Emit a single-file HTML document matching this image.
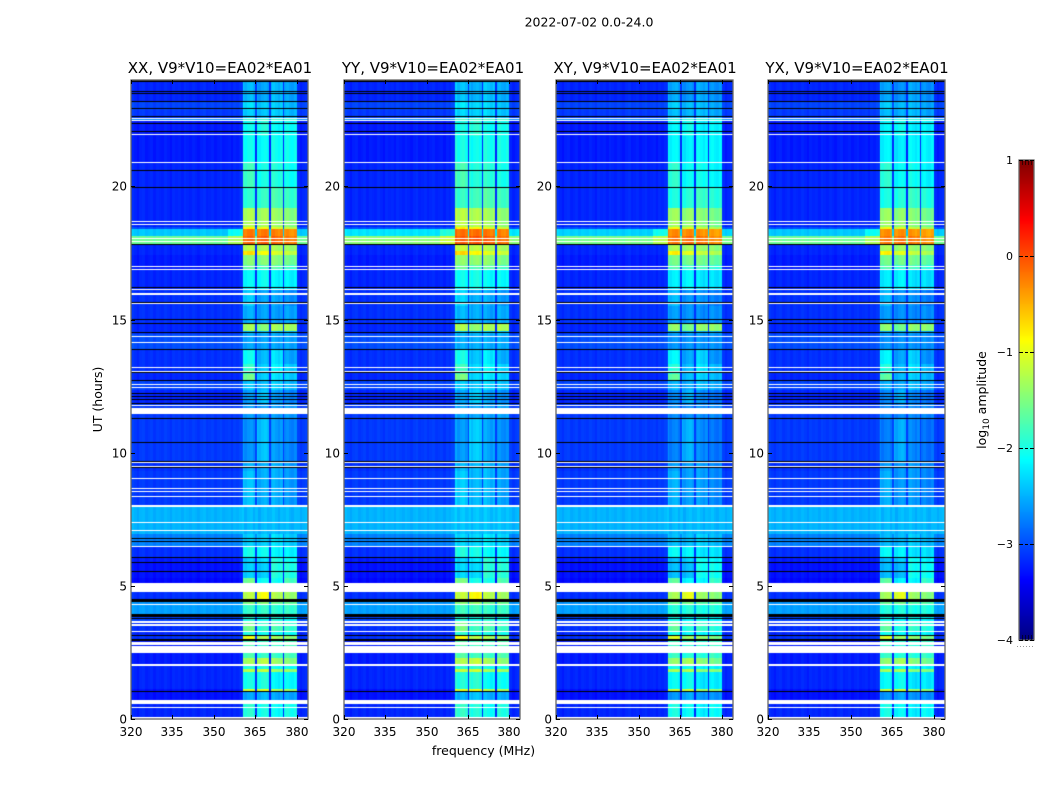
<!DOCTYPE html>
<html lang="en">
<head>
<meta charset="utf-8">
<title>2022-07-02 dynamic spectra</title>
<style>
  html, body { margin: 0; padding: 0; background: #fff; }
  #figure { position: relative; width: 1050px; height: 800px; overflow: hidden; background: #fff; }
  canvas { position: absolute; display: block; }
  svg { position: absolute; left: 0; top: 0; }
  text { font-family: "DejaVu Sans", "Liberation Sans", sans-serif; fill: #000; }
</style>
</head>
<body>
<div id="figure">
  <canvas id="hm0" width="177" height="639" style="left:131px;top:80px"></canvas>
  <canvas id="hm1" width="176" height="639" style="left:344px;top:80px"></canvas>
  <canvas id="hm2" width="177" height="639" style="left:556px;top:80px"></canvas>
  <canvas id="hm3" width="177" height="639" style="left:768px;top:80px"></canvas>
  <canvas id="cbar" width="15" height="480" style="left:1019px;top:160px"></canvas>
  <svg id="overlay" width="1050" height="800" viewBox="0 0 1050 800">
    <text x="589" y="26.5" text-anchor="middle" font-size="12.5">2022-07-02 0.0-24.0</text>
    <text x="220" y="73" text-anchor="middle" font-size="15">XX, V9*V10=EA02*EA01</text>
    <text x="433" y="73" text-anchor="middle" font-size="15">YY, V9*V10=EA02*EA01</text>
    <text x="645" y="73" text-anchor="middle" font-size="15">XY, V9*V10=EA02*EA01</text>
    <text x="857" y="73" text-anchor="middle" font-size="15">YX, V9*V10=EA02*EA01</text>
    <text x="483.5" y="755" text-anchor="middle" font-size="12.5">frequency (MHz)</text>
    <text transform="translate(102,399.5) rotate(-90)" text-anchor="middle" font-size="12.5">UT (hours)</text>
    <text transform="translate(986,400) rotate(-90)" text-anchor="middle" font-size="12.5">log<tspan dy="3" font-size="9">10</tspan><tspan dy="-3"> amplitude</tspan></text>
    <g id="axes-layer"></g>
    <g id="cbar-layer"></g>
  </svg>
</div>
<script>
// Tick labels
const xTickValues = [320, 335, 350, 365, 380];
const yTickValues = [0, 5, 10, 15, 20];
const colorTickValues = [1, 0, -1, -2, -3, -4];

// Axis domains
const freqDomain = [320, 384];
const timeDomain = [0, 24];
const colorDomain = [-4, 1];

// Lower edge (UT hours) of each time segment
const segmentStartHours = [0.00,0.75,1.03,1.16,1.80,1.91,2.10,2.33,3.00,3.15,3.34,3.68,3.94,4.35,4.54,5.14,5.33,5.93,6.12,6.49,6.98,8.07,9.34,9.64,11.30,11.83,12.35,12.72,12.98,13.36,13.88,14.48,14.60,14.86,15.53,16.17,16.92,17.07,17.45,17.60,17.82,18.16,18.42,18.50,19.21,19.96,20.90,21.91,22.47,22.55,22.89,23.20];
// log10 amplitude levels per segment: out-of-band background and four sub-bands
const backgroundLevels = [-3.2,-3.3,-3.3,-3.2,-3.2,-3.2,-3.25,-3.25,-3.15,-3.2,-3.15,-3.05,-2.6,-2.65,-3.15,-3.35,-3.3,-3.25,-3.15,-2.75,-2.5,-3.1,-3.15,-3.1,-3.1,-3.2,-3.05,-3.2,-3.15,-3.15,-3.0,-3.15,-3.2,-3.15,-3.15,-3.2,-3.25,-3.25,-3.2,-3.2,-1.6,-2.4,-3.0,-3.2,-3.2,-3.2,-3.25,-3.25,-2.7,-3.1,-3.05,-3.2];
const band1Levels = [-1.95,-2.6,-1.1,-2.05,-1.25,-2.0,-1.35,-1.8,-1.0,-2.0,-1.6,-2.0,-1.9,-1.55,-1.25,-1.6,-2.4,-2.4,-2.05,-2.4,-2.5,-2.45,-2.55,-2.7,-2.65,-2.65,-2.45,-1.6,-1.9,-2.1,-2.6,-2.5,-1.35,-2.55,-2.4,-2.15,-1.7,-1.5,-0.75,-1.25,-0.15,-0.25,-0.9,-1.3,-1.95,-1.85,-2.1,-2.1,-1.9,-2.4,-2.3,-2.5];
const band2Levels = [-2.05,-2.5,-1.05,-2.0,-1.2,-2.0,-1.25,-1.9,-1.3,-2.1,-1.9,-2.1,-1.9,-1.5,-0.95,-2.1,-2.4,-2.3,-2.1,-2.4,-2.5,-2.55,-2.55,-2.45,-2.65,-2.45,-2.5,-2.4,-2.4,-2.5,-2.6,-2.5,-1.5,-2.6,-2.6,-2.1,-1.85,-1.5,-0.95,-1.3,-0.1,-0.25,-1.0,-1.35,-1.9,-2.05,-2.15,-2.0,-1.9,-2.45,-2.4,-2.6];
const band3Levels = [-2.15,-2.6,-1.3,-2.2,-1.4,-2.1,-1.4,-1.9,-1.35,-2.1,-1.8,-2.0,-1.95,-1.65,-1.3,-2.1,-2.0,-2.0,-2.2,-2.3,-2.5,-2.55,-2.55,-2.65,-2.65,-2.65,-2.4,-2.3,-2.2,-2.3,-2.6,-2.5,-1.35,-2.65,-2.6,-2.2,-1.75,-1.5,-1.1,-1.35,-0.15,-0.3,-1.1,-1.4,-1.8,-2.0,-2.1,-2.15,-1.9,-2.4,-2.4,-2.5];
const band4Levels = [-2.05,-2.6,-1.35,-2.15,-1.4,-2.1,-1.5,-1.8,-1.45,-2.1,-1.9,-2.1,-1.9,-1.65,-1.4,-1.8,-2.0,-2.1,-2.2,-2.4,-2.5,-2.65,-2.65,-2.75,-2.65,-2.75,-2.5,-2.4,-2.4,-2.6,-2.6,-2.5,-1.35,-2.6,-2.7,-2.2,-1.9,-1.6,-1.2,-1.4,-0.25,-0.35,-1.2,-1.5,-1.9,-2.1,-2.1,-2.1,-1.9,-2.5,-2.5,-2.6];

// Sub-band edges in MHz
const bandStartMHz = [360.5, 365.5, 370.5, 375.5];
const bandWidthMHz = 4.5;
const channelStepMHz = 0.5;

// Per-MHz level offset across the 64 MHz span
const channelOffsets = [0.05,0.00,-0.05,0.02,0.04,-0.03,0.00,0.03,-0.04,0.02,0.00,-0.02,0.04,0.00,-0.05,0.03,0.00,0.02,-0.03,0.04,0.01,-0.02,0.03,0.00,-0.04,0.02,0.05,-0.02,0.00,0.03,-0.03,0.01,0.04,-0.02,0.00,0.02,-0.04,0.03,0.00,0.05,0.10,-0.03,0.05,0.08,-0.02,0.06,-0.05,0.04,0.08,0.00,0.02,0.10,0.03,-0.04,0.05,0.02,0.08,0.00,-0.03,0.05,0.04,-0.03,0.02,0.05];

// Per-panel level offsets (XX, YY, XY, YX)
const panelBandOffsets = [0, 0.05, -0.08, -0.1];
const panelBrightBackgroundOffsets = [0, 0.15, 0.05, 0];

// Interference near 18 UT brightens the channels just below the first sub-band
const shoulderRangeMHz = [355, 360.5];
const shoulderBoost = 0.3;

// Flagged time ranges in UT hours: white = no data, black = zero amplitude
const blankRanges = [[0.02,0.08],[0.42,0.47],[0.60,0.75],[2.03,2.07],[2.51,2.75],[2.80,2.93],[3.27,3.34],[3.53,3.58],[3.62,3.69],[4.32,4.35],[4.80,5.14],[6.49,6.53],[7.07,7.11],[7.39,7.43],[7.96,8.07],[8.35,8.39],[8.55,8.59],[8.65,8.70],[9.02,9.06],[9.47,9.51],[9.62,9.66],[11.48,11.69],[11.78,11.82],[12.43,12.47],[12.55,12.59],[13.05,13.09],[13.18,13.22],[14.12,14.16],[14.36,14.40],[15.58,15.62],[15.95,15.99],[16.12,16.16],[16.87,16.91],[16.97,17.01],[17.94,17.97],[18.03,18.07],[18.56,18.60],[18.66,18.70],[20.88,20.92],[21.94,21.98],[22.47,22.51],[22.53,22.57]];
const zeroRanges = [[1.03,1.07],[2.95,3.02],[3.13,3.17],[3.76,3.80],[3.86,3.96],[4.43,4.47],[4.50,4.54],[5.55,5.59],[5.89,5.93],[6.08,6.12],[6.67,6.71],[6.78,6.82],[9.43,9.47],[9.66,9.70],[10.38,10.42],[11.28,11.32],[11.83,11.87],[11.98,12.02],[12.10,12.14],[12.23,12.27],[12.69,12.73],[13.00,13.04],[13.86,13.90],[14.49,14.53],[14.86,14.90],[14.98,15.02],[15.63,15.67],[16.20,16.24],[17.80,17.84],[19.93,19.97],[20.58,20.62],[22.05,22.09],[22.36,22.40],[22.62,22.66],[22.90,22.94],[23.18,23.22],[23.46,23.50],[23.56,23.60],[23.94,24.00]];

// Axis functions
const panelLefts = [131, 344, 556, 768];
const panelRights = [308, 520, 733, 945];
const plotBottom = 719.4;
const plotTop = 79.8;
const cbarTop = 160;
const cbarBottom = 640;
function xScale(panel, mhz) {
  return panelLefts[panel] + (mhz - freqDomain[0]) / (freqDomain[1] - freqDomain[0]) * (panelRights[panel] - panelLefts[panel]);
}
function yScale(hour) {
  return plotBottom - (hour - timeDomain[0]) / (timeDomain[1] - timeDomain[0]) * (plotBottom - plotTop);
}
function cbarScale(value) {
  return cbarBottom - (value - colorDomain[0]) / (colorDomain[1] - colorDomain[0]) * (cbarBottom - cbarTop);
}
function clamp01(v) { return Math.max(0, Math.min(1, v)); }
function jet(value) {
  const f = clamp01((value - colorDomain[0]) / (colorDomain[1] - colorDomain[0]));
  const r = clamp01(Math.min(4 * f - 1.5, -4 * f + 4.5));
  const g = clamp01(Math.min(4 * f - 0.5, -4 * f + 3.5));
  const b = clamp01(Math.min(4 * f + 0.5, -4 * f + 2.5));
  return 'rgb(' + Math.round(r * 255) + ',' + Math.round(g * 255) + ',' + Math.round(b * 255) + ')';
}
const bandLevelArrays = [band1Levels, band2Levels, band3Levels, band4Levels];

function drawRanges(ctx, panel, ranges, color) {
  ctx.fillStyle = color;
  ranges.forEach(function (range) {
    const top = Math.round(yScale(range[1]) - plotTop);
    const bottom = Math.round(yScale(range[0]) - plotTop);
    ctx.fillRect(0, top, ctx.canvas.width, Math.max(1, bottom - top));
  });
}

function drawHeatmap(panel) {
  const ctx = document.getElementById('hm' + panel).getContext('2d');
  const left = panelLefts[panel];
  segmentStartHours.forEach(function (startHour, s) {
    const endHour = s + 1 < segmentStartHours.length ? segmentStartHours[s + 1] : timeDomain[1];
    const top = Math.round(yScale(endHour) - plotTop);
    const bottom = Math.round(yScale(startHour) - plotTop);
    for (let mhz = freqDomain[0]; mhz < freqDomain[1]; mhz += channelStepMHz) {
      const offset = channelOffsets[Math.floor(mhz - freqDomain[0])];
      let level = backgroundLevels[s];
      if (level > -2.5) {
        level += panelBrightBackgroundOffsets[panel];
        if (mhz >= shoulderRangeMHz[0] && mhz < shoulderRangeMHz[1]) level += shoulderBoost;
      }
      bandStartMHz.forEach(function (bandStart, b) {
        if (mhz >= bandStart && mhz < bandStart + bandWidthMHz) {
          level = Math.max(level, bandLevelArrays[b][s] + panelBandOffsets[panel]);
        }
      });
      const x0 = Math.round(xScale(panel, mhz) - left);
      const x1 = Math.round(xScale(panel, mhz + channelStepMHz) - left);
      ctx.fillStyle = jet(level + offset);
      ctx.fillRect(x0, top, Math.max(1, x1 - x0), bottom - top);
    }
  });
  drawRanges(ctx, panel, zeroRanges, '#000');
  drawRanges(ctx, panel, blankRanges, '#fff');
}

function svgEl(tag, parent) {
  const el = document.createElementNS('http://www.w3.org/2000/svg', tag);
  parent.appendChild(el);
  return el;
}

function drawAxes(panel) {
  const layer = document.getElementById('axes-layer');
  const left = panelLefts[panel];
  const right = panelRights[panel];
  const frame = svgEl('rect', layer);
  
  
  frame.setAttribute('x', left);
  frame.setAttribute('y', 80);
  frame.setAttribute('width', right - left);
  frame.setAttribute('height', 639);
  frame.setAttribute('fill', 'none');
  frame.setAttribute('stroke', '#666');
  frame.setAttribute('stroke-width', '1.3');
  xTickValues.forEach(function (value) {
    const x = Math.round(xScale(panel, value));
    const tick = svgEl('path', layer);
    
    
    tick.setAttribute('d', 'M' + (x + 0.5) + ' 719V715M' + (x + 0.5) + ' 80V84');
    tick.setAttribute('stroke', '#000');
    tick.setAttribute('fill', 'none');
    const label = svgEl('text', layer);
    
    
    label.setAttribute('x', x);
    label.setAttribute('y', 736);
    label.setAttribute('font-size', '12');
    label.setAttribute('text-anchor', 'middle');
    label.textContent = String(value);
  });
  yTickValues.forEach(function (value) {
    const y = Math.round(yScale(value));
    const tick = svgEl('path', layer);
    
    
    tick.setAttribute('d', 'M' + left + ' ' + (y + 0.5) + 'H' + (left + 4) + 'M' + right + ' ' + (y + 0.5) + 'H' + (right - 4));
    tick.setAttribute('stroke', '#000');
    tick.setAttribute('fill', 'none');
    const label = svgEl('text', layer);
    
    
    label.setAttribute('x', left - 4);
    label.setAttribute('y', y + 4.5);
    label.setAttribute('font-size', '12');
    label.setAttribute('text-anchor', 'end');
    label.textContent = String(value);
  });
}

function drawColorbar() {
  const ctx = document.getElementById('cbar').getContext('2d');
  for (let py = 0; py < 480; py++) {
    const value = colorDomain[1] - (py + 0.5) / 480 * (colorDomain[1] - colorDomain[0]);
    ctx.fillStyle = jet(value);
    ctx.fillRect(0, py, 15, 1);
  }
  const layer = document.getElementById('cbar-layer');
  const frame = svgEl('rect', layer);
  
  
  frame.setAttribute('x', 1019);
  frame.setAttribute('y', cbarTop);
  frame.setAttribute('width', 15);
  frame.setAttribute('height', cbarBottom - cbarTop);
  frame.setAttribute('fill', 'none');
  frame.setAttribute('stroke', '#666');
  frame.setAttribute('stroke-width', '1.3');
  colorTickValues.forEach(function (value) {
    const y = Math.round(cbarScale(value));
    const tick = svgEl('path', layer);
    
    
    tick.setAttribute('d', 'M1019 ' + (y + 0.5) + 'H1023M1025 ' + (y + 0.5) + 'H1028M1030 ' + (y + 0.5) + 'H1034');
    tick.setAttribute('stroke', '#000');
    tick.setAttribute('fill', 'none');
    const label = svgEl('text', layer);
    
    
    label.setAttribute('x', 1013);
    label.setAttribute('y', y + 4);
    label.setAttribute('font-size', '11');
    label.setAttribute('text-anchor', 'end');
    label.textContent = value < 0 ? '\u2212' + Math.abs(value) : String(value);
  });
  const minor = svgEl('path', layer);
  
  
  minor.setAttribute('d', 'M1022.5 160V165M1025.5 160V165M1028.5 160V165M1031.5 160V165M1022.5 640V635M1025.5 640V635M1028.5 640V635M1031.5 640V635');
  minor.setAttribute('stroke', '#000');
  minor.setAttribute('stroke-opacity', '0.6');
  minor.setAttribute('fill', 'none');
  const dots = svgEl('path', layer);
  
  
  dots.setAttribute('d', 'M1017 646.5H1035');
  dots.setAttribute('stroke', '#999');
  dots.setAttribute('stroke-dasharray', '1 2');
  dots.setAttribute('fill', 'none');
}

[0, 1, 2, 3].forEach(function (panel) {
  drawHeatmap(panel);
  drawAxes(panel);
});
drawColorbar();
</script>
</body>
</html>
